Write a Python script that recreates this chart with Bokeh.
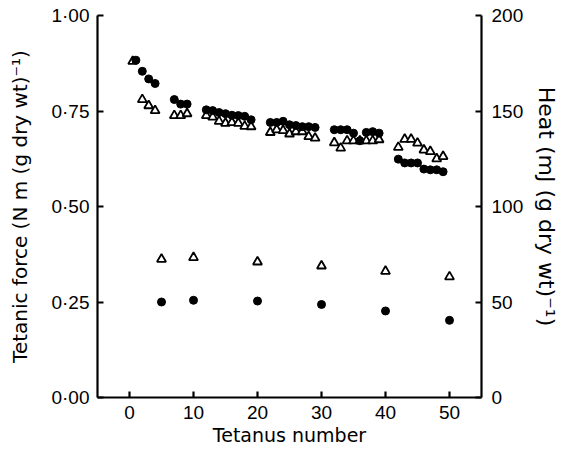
from bokeh.plotting import figure
from bokeh.models import Range1d, LinearAxis, FixedTicker
from bokeh.embed import file_html
from bokeh.resources import INLINE

# ---- data ----
force_circle_n = [1, 2, 3, 4, 7, 8, 9,
                  12, 13, 14, 15, 16, 17, 18, 19,
                  22, 23, 24, 25, 26, 27, 28, 29,
                  32, 33, 34, 35, 36, 37, 38, 39,
                  42, 43, 44, 45, 46, 47, 48, 49]
force_circle = [0.883, 0.854, 0.834, 0.822, 0.780, 0.768, 0.768,
                0.753, 0.751, 0.746, 0.743, 0.739, 0.738, 0.736, 0.727,
                0.720, 0.720, 0.723, 0.714, 0.712, 0.709, 0.709, 0.707,
                0.701, 0.701, 0.701, 0.692, 0.672, 0.694, 0.696, 0.692,
                0.624, 0.614, 0.614, 0.614, 0.598, 0.596, 0.596, 0.591]
force_triangle_n = [0.5, 2, 3, 4, 7, 8, 9,
                    12, 13, 14, 15, 16, 17, 18, 19,
                    22, 23, 24, 25, 26, 27, 28, 29,
                    32, 33, 34, 35, 36, 37, 38, 39,
                    42, 43, 44, 45, 46, 47, 48, 49]
force_triangle = [0.880, 0.780, 0.764, 0.751, 0.738, 0.738, 0.743,
                  0.738, 0.734, 0.723, 0.718, 0.720, 0.718, 0.710, 0.709,
                  0.694, 0.701, 0.699, 0.690, 0.696, 0.696, 0.683, 0.679,
                  0.667, 0.653, 0.672, 0.672, 0.672, 0.672, 0.672, 0.675,
                  0.655, 0.676, 0.676, 0.666, 0.648, 0.644, 0.625, 0.631]
heat_n = [5, 10, 20, 30, 40, 50]
heat_circle = [50.0, 50.9, 50.5, 48.7, 45.3, 40.4]
heat_triangle = [72.4, 73.3, 71.0, 68.9, 66.1, 63.2]

x_ticks = [0, 10, 20, 30, 40, 50]
left_ticks = [0, 0.25, 0.5, 0.75, 1.0]
left_tick_labels = ["0·00", "0·25", "0·50", "0·75", "1·00"]
right_ticks = [0, 50, 100, 150, 200]

x_title = "Tetanus number"
left_title = "Tetanic force (N m (g dry wt)⁻¹)"
right_title = "Heat (mJ (g dry wt)⁻¹)"

FONT = "Liberation Sans"
LABEL_FONT = "DejaVu Sans"

p = figure(width=562, height=451, x_range=Range1d(-5, 55), y_range=Range1d(0, 1),
           output_backend="svg", toolbar_location=None,
           min_border_left=97, min_border_right=80, min_border_top=15, min_border_bottom=54)
p.extra_y_ranges = {"heat": Range1d(0, 200)}
p.grid.visible = False
p.outline_line_color = None
p.background_fill_color = "white"
p.border_fill_color = "white"

right_axis = LinearAxis(y_range_name="heat")
p.add_layout(right_axis, "right")

for ax in [p.xaxis[0], p.yaxis[0], right_axis]:
    ax.axis_line_width = 2.2
    ax.axis_line_color = "black"
    ax.major_tick_line_width = 2.2
    ax.major_tick_line_color = "black"
    ax.major_tick_in = 6
    ax.major_tick_out = 0
    ax.minor_tick_line_color = None
    ax.major_label_text_font = FONT
    ax.major_label_text_font_size = "19px"
    ax.major_label_text_color = "black"
    ax.axis_label_text_font = LABEL_FONT
    ax.axis_label_text_font_style = "normal"
    ax.axis_label_text_color = "black"

p.xaxis[0].ticker = FixedTicker(ticks=x_ticks)
p.xaxis[0].axis_label = x_title
p.xaxis[0].axis_label_text_font_size = "19px"
p.xaxis[0].major_label_standoff = 8
p.xaxis[0].axis_label_standoff = 2

p.yaxis[0].ticker = FixedTicker(ticks=left_ticks)
p.yaxis[0].major_label_overrides = {t: s for t, s in zip(left_ticks, left_tick_labels)}
p.yaxis[0].axis_label = left_title
p.yaxis[0].axis_label_text_font_size = "20px"
p.yaxis[0].major_label_standoff = 8
p.yaxis[0].axis_label_standoff = 16

right_axis.ticker = FixedTicker(ticks=right_ticks)
right_axis.axis_label = right_title
right_axis.axis_label_text_font_size = "22px"
right_axis.major_label_standoff = 10
right_axis.axis_label_standoff = 8

# triangles first, circles on top
p.scatter(force_triangle_n, force_triangle, marker="triangle", size=9,
          fill_color="white", line_color="black", line_width=1.8)
p.scatter(heat_n, heat_triangle, marker="triangle", size=9, y_range_name="heat",
          fill_color="white", line_color="black", line_width=1.8)
p.scatter(force_circle_n, force_circle, marker="circle", size=8,
          fill_color="black", line_color="black")
p.scatter(heat_n, heat_circle, marker="circle", size=8, y_range_name="heat",
          fill_color="black", line_color="black")

open("out.html", "w").write(file_html(p, INLINE))
